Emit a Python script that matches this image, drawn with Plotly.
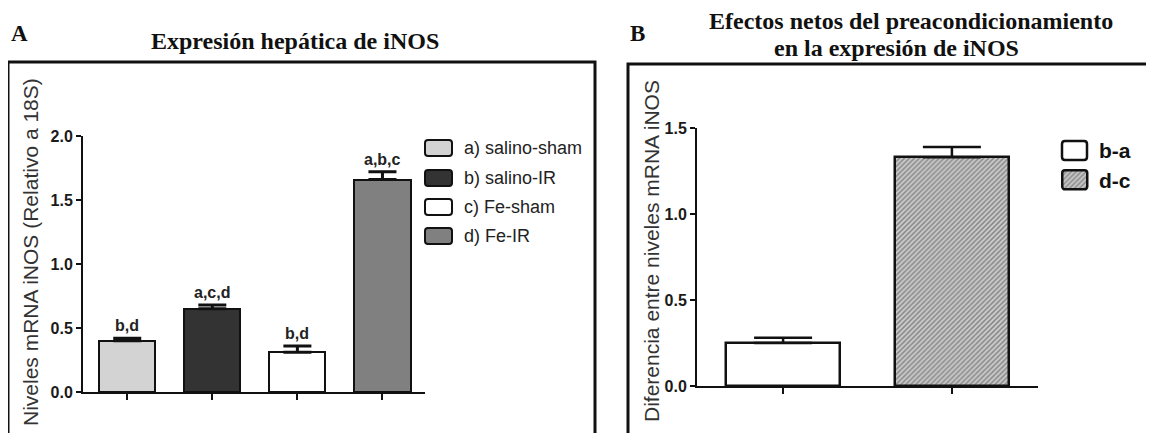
import plotly.graph_objects as go

# page body has an 8px margin -> figure sized so page fits the 1154x441 window
OFF = 8
W, H = 1154 - 2 * OFF, 441 - 2 * OFF

# ---------------- data ----------------
groups_a = ["a) salino-sham", "b) salino-IR", "c) Fe-sham", "d) Fe-IR"]
values_a = [0.40, 0.65, 0.31, 1.66]
errors_a = [0.02, 0.03, 0.05, 0.06]
letters_a = ["b,d", "a,c,d", "b,d", "a,b,c"]
colors_a = ["#d3d3d3", "#333333", "#ffffff", "#808080"]
yticks_a = [0.0, 0.5, 1.0, 1.5, 2.0]

groups_b = ["b-a", "d-c"]
values_b = [0.25, 1.33]
errors_b = [0.03, 0.06]
yticks_b = [0.0, 0.5, 1.0, 1.5]

title_a = "Expresión hepática de iNOS"
title_b1 = "Efectos netos del preacondicionamiento"
title_b2 = "en la expresión de iNOS"
ytitle_a = "Niveles mRNA iNOS (Relativo a 18S)"
ytitle_b = "Diferencia entre niveles mRNA iNOS"


def px(x):
    return (x - OFF) / W


def py(y):
    return 1 - (y - OFF) / H


def rrect(x0, y0, x1, y1, r=3):
    pts = [
        f"M{px(x0 + r)},{py(y0)}", f"L{px(x1 - r)},{py(y0)}",
        f"Q{px(x1)},{py(y0)} {px(x1)},{py(y0 + r)}", f"L{px(x1)},{py(y1 - r)}",
        f"Q{px(x1)},{py(y1)} {px(x1 - r)},{py(y1)}", f"L{px(x0 + r)},{py(y1)}",
        f"Q{px(x0)},{py(y1)} {px(x0)},{py(y1 - r)}", f"L{px(x0)},{py(y0 + r)}",
        f"Q{px(x0)},{py(y0)} {px(x0 + r)},{py(y0)}", "Z",
    ]
    return " ".join(pts)


SANS = "Liberation Sans, Arial, sans-serif"
SERIF = "Liberation Serif, Times New Roman, serif"

HATCH = dict(shape="/", fgcolor="#444444", bgcolor="#cccccc", size=3.5, solidity=0.45)

fig = go.Figure()

# Panel A bars
fig.add_trace(go.Bar(
    x=groups_a, y=values_a, width=0.66,
    marker=dict(color=colors_a, line=dict(color="#111111", width=2)),
    error_y=dict(type="data", array=errors_a, arrayminus=[0] * len(errors_a),
                 symmetric=False, color="#111111", thickness=3, width=14),
    xaxis="x", yaxis="y", showlegend=False,
))

# Panel B bars
fig.add_trace(go.Bar(
    x=groups_b, y=values_b, width=0.675,
    marker=dict(color=["#ffffff", "#cccccc"], line=dict(color="#111111", width=2.5),
                pattern=dict(shape=["", "/"], fgcolor="#444444", bgcolor=["#ffffff", "#cccccc"],
                             size=3.5, solidity=0.45)),
    error_y=dict(type="data", array=errors_b, arrayminus=[0] * len(errors_b),
                 symmetric=False, color="#111111", thickness=2.5, width=29),
    xaxis="x2", yaxis="y2", showlegend=False,
))

# Legend key for hatched d-c (tiny axis)
fig.add_trace(go.Bar(
    x=[groups_b[1]], y=[1], width=1, base=0,
    marker=dict(color="#cccccc", line=dict(color="#111111", width=2.5), cornerradius=3,
                pattern=HATCH),
    xaxis="x3", yaxis="y3", showlegend=False, hoverinfo="skip",
))

axis_common = dict(showgrid=False, zeroline=False, showline=True, linecolor="#111111",
                   linewidth=2, ticks="outside", tickcolor="#111111", automargin=False)
tickfont = dict(size=16, family=SANS, weight="bold", color="#1a1a1a")

fig.update_layout(
    width=W, height=H,
    margin=dict(l=0, r=0, t=0, b=0, autoexpand=False),
    paper_bgcolor="white", plot_bgcolor="rgba(0,0,0,0)",
    font=dict(family=SANS, color="#111111"),
    bargap=0,
    xaxis=dict(domain=[px(83), px(425)], range=[-0.52, 3.5], type="category",
               showticklabels=False, ticklen=6, tickwidth=1.5, anchor="y", **axis_common),
    yaxis=dict(domain=[py(392), py(136)], range=[0, 2.0], tickvals=yticks_a,
               ticktext=[f"{v:.1f}" for v in yticks_a], ticklen=5, tickwidth=2,
               tickfont=tickfont, anchor="x", **axis_common),
    xaxis2=dict(domain=[px(697), px(1038)], range=[-0.51, 1.51], type="category",
                showticklabels=False, ticklen=6, tickwidth=1.5, anchor="y2", **axis_common),
    yaxis2=dict(domain=[py(386), py(128)], range=[0, 1.5], tickvals=yticks_b,
                ticktext=[f"{v:.1f}" for v in yticks_b], ticklen=5, tickwidth=2,
                tickfont=tickfont, anchor="x2", **axis_common),
    xaxis3=dict(domain=[px(1074.5 - 15), px(1074.5 + 15)], range=[-0.6, 0.6], type="category",
                visible=False, anchor="y3"),
    yaxis3=dict(domain=[py(180 + 11.4), py(180 - 11.4)], range=[-0.1, 1.1],
                visible=False, anchor="x3"),
)

C = dict(xanchor="center", yanchor="middle", showarrow=False, xref="paper", yref="paper")

ann = []
# letters above bars
for g, v, e, t in zip(groups_a, values_a, errors_a, letters_a):
    ann.append(dict(x=g, y=v + e, xref="x", yref="y", text=f"<b>{t}</b>", showarrow=False,
                    xanchor="center", yanchor="bottom", yshift=2,
                    font=dict(size=16, family=SANS, color="#222222")))

# titles
ann.append(dict(x=px(295), y=py(41), text=f"<b>{title_a}</b>",
                font=dict(size=24, family=SERIF, color="#111111"), **C))
ann.append(dict(x=px(19), y=py(34), text="<b>A</b>",
                font=dict(size=23, family=SERIF, color="#111111"), **C))
ann.append(dict(x=px(911), y=py(21), text=f"<b>{title_b1}</b>",
                font=dict(size=24, family=SERIF, color="#111111"), **C))
ann.append(dict(x=px(896), y=py(48), text=f"<b>{title_b2}</b>",
                font=dict(size=24, family=SERIF, color="#111111"), **C))
ann.append(dict(x=px(637), y=py(33), text="<b>B</b>",
                font=dict(size=23, family=SERIF, color="#111111"), **C))

# y axis titles
ann.append(dict(x=px(30), y=py(252), text=ytitle_a, textangle=-90,
                font=dict(size=21, family=SANS, color="#333333"), **C))
ann.append(dict(x=px(651), y=py(251), text=ytitle_b, textangle=-90,
                font=dict(size=21, family=SANS, color="#333333"), **C))

shapes = []
# frames
shapes.append(dict(type="path", xref="paper", yref="paper",
                   path=f"M{px(8)},{py(460)} L{px(8)},{py(62)} L{px(595)},{py(62)} L{px(595)},{py(460)}",
                   line=dict(color="#111111", width=3)))
shapes.append(dict(type="path", xref="paper", yref="paper",
                   path=f"M{px(628)},{py(460)} L{px(628)},{py(64)} L{px(1170)},{py(64)}",
                   line=dict(color="#111111", width=3)))

# legend A
rows_a = [148, 178, 207, 236]
for g, c, yc in zip(groups_a, colors_a, rows_a):
    shapes.append(dict(type="path", xref="paper", yref="paper", path=rrect(425, yc - 8, 452, yc + 8, 3),
                       fillcolor=c, line=dict(color="#111111", width=2)))
    ann.append(dict(x=px(462), y=py(yc), xref="paper", yref="paper", text=g, showarrow=False,
                    xanchor="left", yanchor="middle", font=dict(size=18, family=SANS, color="#222222")))

# legend B
rows_b = [150.5, 180]
shapes.append(dict(type="path", xref="paper", yref="paper", path=rrect(1062, rows_b[0] - 9.5, 1087, rows_b[0] + 9.5, 3),
                   fillcolor="#ffffff", line=dict(color="#111111", width=2.5)))
for g, yc in zip(groups_b, rows_b):
    ann.append(dict(x=px(1097), y=py(yc), xref="paper", yref="paper", text=f"<b>{g}</b>", showarrow=False,
                    xanchor="left", yanchor="middle", font=dict(size=21, family=SANS, color="#111111")))

fig.update_layout(annotations=ann, shapes=shapes)

fig.write_html("out.html")
